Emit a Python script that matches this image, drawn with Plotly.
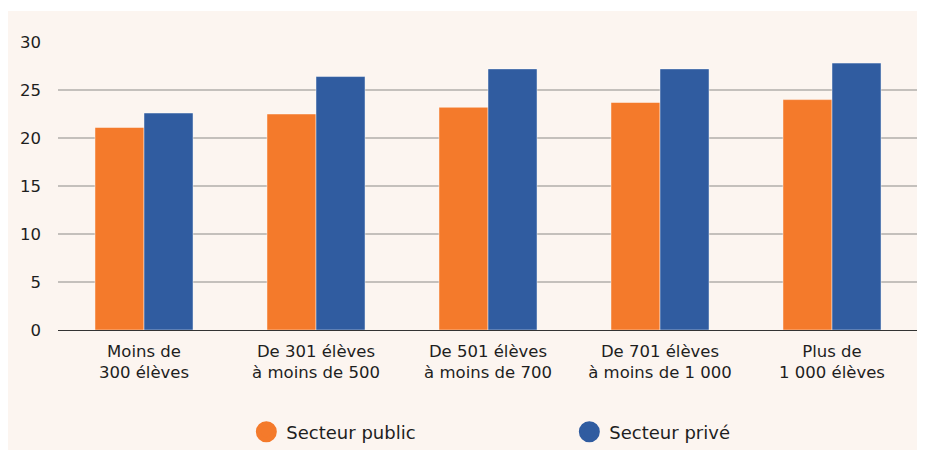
import plotly.graph_objects as go

categories = ["Moins de<br>300 élèves", "De 301 élèves<br>à moins de 500",
              "De 501 élèves<br>à moins de 700", "De 701 élèves<br>à moins de 1 000",
              "Plus de<br>1 000 élèves"]
public_values = [21.1, 22.5, 23.2, 23.7, 24.0]
private_values = [22.6, 26.4, 27.2, 27.2, 27.8]
y_ticks = [0, 5, 10, 15, 20, 25, 30]

ORANGE = "#f47a2b"
BLUE = "#305ca0"
BG = "#fcf5f0"
FONT = "DejaVu Sans"
TXT = "#1e1e1e"

fig = go.Figure()
fig.add_trace(go.Bar(x=categories, y=public_values, name="Secteur public",
                     marker=dict(color=ORANGE, line=dict(color="rgba(255,255,255,0.45)", width=1)),
                     showlegend=False))
fig.add_trace(go.Bar(x=categories, y=private_values, name="Secteur privé",
                     marker=dict(color=BLUE, line=dict(color="rgba(255,255,255,0.45)", width=1)),
                     showlegend=False))
# legend entries with round symbols
fig.add_trace(go.Scatter(x=[None], y=[None], mode="markers", name="Secteur public",
                         marker=dict(symbol="circle", size=16, color=ORANGE,
                                     line=dict(color=ORANGE, width=5))))
fig.add_trace(go.Scatter(x=[None], y=[None], mode="markers", name="Secteur privé",
                         marker=dict(symbol="circle", size=16, color=BLUE,
                                     line=dict(color=BLUE, width=5))))

fig.update_layout(
    width=917, height=442,
    margin=dict(l=49.5, r=6.5, t=34, b=120),
    paper_bgcolor="white",
    plot_bgcolor="rgba(0,0,0,0)",
    font=dict(family=FONT, size=16.5, color=TXT),
    barmode="group", bargap=0.43, bargroupgap=0,
    showlegend=True,
    legend=dict(orientation="h", xref="paper", x=0.219, xanchor="left",
                yref="container", y=0.0407, yanchor="middle",
                entrywidth=278, entrywidthmode="pixels",
                font=dict(family=FONT, size=18, color=TXT),
                bgcolor="rgba(0,0,0,0)"),
    shapes=[dict(type="rect", xref="paper", yref="paper",
                 x0=-0.1, x1=1.2, y0=-0.6, y1=1.1076,
                 fillcolor=BG, line=dict(width=0), layer="below")],
)
fig.update_xaxes(showgrid=False, showline=True, linecolor="#333333", linewidth=1.2,
                 ticks="", ticklabelstandoff=6)
fig.update_yaxes(range=[0, 30], tickvals=y_ticks, showgrid=True, gridcolor="#c4c0bc",
                 gridwidth=1.5, zeroline=False, showline=False, ticks="",
                 ticklabelstandoff=16)

fig.write_html("out.html")
